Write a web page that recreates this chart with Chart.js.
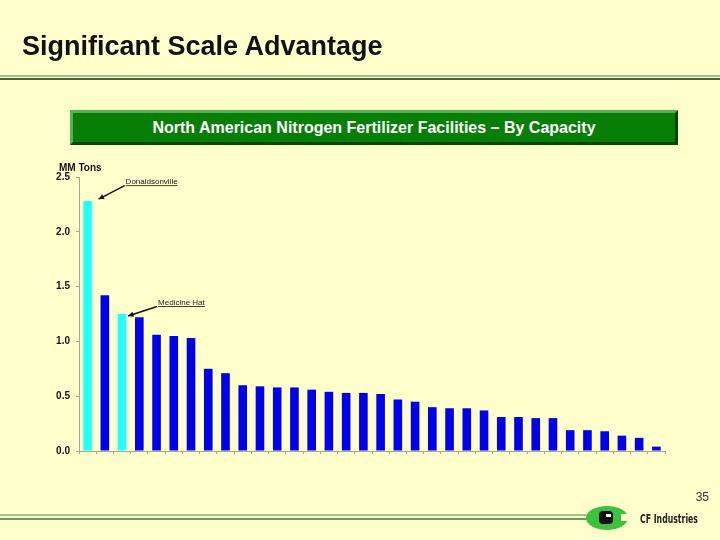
<!DOCTYPE html>
<html>
<head>
<meta charset="utf-8">
<script src="https://cdn.jsdelivr.net/npm/chart.js@4.4.1/dist/chart.umd.min.js"></script>
<style>
  body { margin: 0; background: #ffffcc; font-family: 'Liberation Sans', Arial, sans-serif; }
  #page { position: relative; width: 720px; height: 540px; overflow: hidden; background: #ffffcc; }
  #chart { position: absolute; left: 0; top: 0; }
  .title { position: absolute; left: 22px; top: 31px; font-size: 27px; font-weight: bold; color: #111; }
  .rule1 { position: absolute; left: 0; top: 75px; width: 720px; height: 2px; background: #9cc48c; }
  .rule2 { position: absolute; left: 0; top: 78px; width: 720px; height: 2px; background: #3f6a3a; }
  .banner { position: absolute; left: 70px; top: 110px; width: 602px; height: 29px; background: #077f07;
    border-style: solid; border-width: 3px; border-color: #56b056 #004a00 #004a00 #56b056;
    color: #fff; font-weight: bold; font-size: 16px; text-align: center; line-height: 29px; }
  .pg { position: absolute; right: 11px; top: 490px; font-size: 12px; color: #333; }
  .foot1 { position: absolute; left: 0; top: 514px; width: 588px; height: 2px; background: #9cc48c; }
  .foot2 { position: absolute; left: 0; top: 518px; width: 588px; height: 2px; background: #6c9a62; }
  .logo { position: absolute; left: 586px; top: 506px; width: 42px; height: 24px; border-radius: 50%; background: #3cc23c; }
  .notch { position: absolute; left: 621px; top: 514px; width: 9px; height: 7px; background: #ffffcc; }
  .mark { position: absolute; left: 599px; top: 511px; width: 14px; height: 13px; background: #111; border-radius: 4px; }
  .mark2 { position: absolute; left: 606px; top: 514px; width: 5px; height: 3px; background: #fff; }
  .cf { position: absolute; left: 640px; top: 512px; font-family: 'DejaVu Sans Condensed', 'DejaVu Sans', sans-serif;
    font-weight: bold; font-size: 12px; color: #222; transform: scaleX(0.72); transform-origin: left top; white-space: nowrap; }
</style>
</head>
<body>
<div id="page">
  <canvas id="chart" width="720" height="540"></canvas>
  <div class="title">Significant Scale Advantage</div>
  <div class="rule1"></div>
  <div class="rule2"></div>
  <div class="banner">North American Nitrogen Fertilizer Facilities – By Capacity</div>
  <div class="pg">35</div>
  <div class="foot1"></div>
  <div class="foot2"></div>
  <div class="logo"></div>
  <div class="notch"></div>
  <div class="mark"></div>
  <div class="mark2"></div>
  <div class="cf">CF Industries</div>
</div>
<script>
// facilities ranked by capacity (only the two CF plants are named on the slide)
const facilities = ['Donaldsonville', 'Plant 2', 'Medicine Hat', 'Plant 4', 'Plant 5', 'Plant 6', 'Plant 7',
  'Plant 8', 'Plant 9', 'Plant 10', 'Plant 11', 'Plant 12', 'Plant 13', 'Plant 14', 'Plant 15', 'Plant 16',
  'Plant 17', 'Plant 18', 'Plant 19', 'Plant 20', 'Plant 21', 'Plant 22', 'Plant 23', 'Plant 24', 'Plant 25',
  'Plant 26', 'Plant 27', 'Plant 28', 'Plant 29', 'Plant 30', 'Plant 31', 'Plant 32', 'Plant 33', 'Plant 34'];
const capacity = [2.28, 1.42, 1.25, 1.22, 1.06, 1.05, 1.03, 0.75, 0.71, 0.60, 0.59, 0.58, 0.58, 0.56, 0.54, 0.53,
  0.53, 0.52, 0.47, 0.45, 0.40, 0.39, 0.39, 0.37, 0.31, 0.31, 0.30, 0.30, 0.19, 0.19, 0.18, 0.14, 0.12, 0.04];
const highlighted = ['Donaldsonville', 'Medicine Hat'];
const yTicks = [0, 0.5, 1.0, 1.5, 2.0, 2.5];

const barColors = facilities.map(f => highlighted.includes(f) ? '#22ffff' : '#0000ee');

// callouts with arrows pointing at the CF plants
const callouts = {
  id: 'callouts',
  afterDatasetsDraw(chart) {
    const ctx = chart.ctx;
    const meta = chart.getDatasetMeta(0);
    const items = [
      { i: 0, tx: 38, ty: -17, ax: 11, ay: -2 },
      { i: 2, tx: 36, ty: -9, ax: 6, ay: 2 }
    ];
    ctx.save();
    ctx.font = '8px "Liberation Sans", Arial, sans-serif';
    ctx.fillStyle = '#222';
    ctx.strokeStyle = '#111';
    items.forEach(it => {
      const bar = meta.data[it.i];
      const name = facilities[it.i];
      const x0 = bar.x + it.tx, y0 = bar.y + it.ty;
      ctx.textBaseline = 'alphabetic';
      ctx.fillText(name, x0, y0);
      const w = ctx.measureText(name).width;
      ctx.lineWidth = 0.8;
      ctx.beginPath(); ctx.moveTo(x0, y0 + 1.5); ctx.lineTo(x0 + w, y0 + 1.5); ctx.stroke();
      // arrow
      const sx = x0 - 1, sy = y0 + 1.5;
      const ex = bar.x + it.ax, ey = bar.y + it.ay;
      ctx.lineWidth = 1.5;
      ctx.beginPath(); ctx.moveTo(sx, sy); ctx.lineTo(ex, ey); ctx.stroke();
      const ang = Math.atan2(ey - sy, ex - sx);
      ctx.beginPath();
      ctx.moveTo(ex, ey);
      ctx.lineTo(ex - 6 * Math.cos(ang - 0.45), ey - 6 * Math.sin(ang - 0.45));
      ctx.lineTo(ex - 6 * Math.cos(ang + 0.45), ey - 6 * Math.sin(ang + 0.45));
      ctx.closePath();
      ctx.fillStyle = '#111';
      ctx.fill();
      ctx.fillStyle = '#222';
    });
    // axis unit label
    ctx.font = 'bold 10px "Liberation Sans", Arial, sans-serif';
    ctx.fillStyle = '#111';
    ctx.fillText('MM Tons', 59, 171);
    ctx.restore();
  }
};

new Chart(document.getElementById('chart'), {
  type: 'bar',
  data: {
    labels: facilities,
    datasets: [{
      data: capacity,
      backgroundColor: barColors,
      categoryPercentage: 1.0,
      barPercentage: 0.5
    }]
  },
  options: {
    responsive: false,
    animation: false,
    layout: { padding: { left: 0, top: 177, right: 55, bottom: 0 } },
    plugins: { legend: { display: false }, tooltip: { enabled: false } },
    scales: {
      x: {
        grid: { drawOnChartArea: false, drawTicks: true, tickLength: 3, color: '#a8a690', offset: true },
        border: { color: '#a8a690', width: 1 },
        ticks: { display: false },
        afterFit: s => { s.height = 89; }
      },
      y: {
        min: 0,
        max: 2.5,
        afterBuildTicks: s => { s.ticks = yTicks.map(v => ({ value: v })); },
        grid: { drawOnChartArea: false, drawTicks: true, tickLength: 3, color: '#a8a690' },
        border: { color: '#a8a690', width: 1 },
        ticks: {
          padding: 6,
          color: '#111',
          font: { family: '"Liberation Sans", Arial, sans-serif', size: 10, weight: 'bold' },
          callback: v => Number(v).toFixed(1)
        },
        afterFit: s => { s.width = 79; }
      }
    }
  },
  plugins: [callouts]
});
</script>
</body>
</html>
